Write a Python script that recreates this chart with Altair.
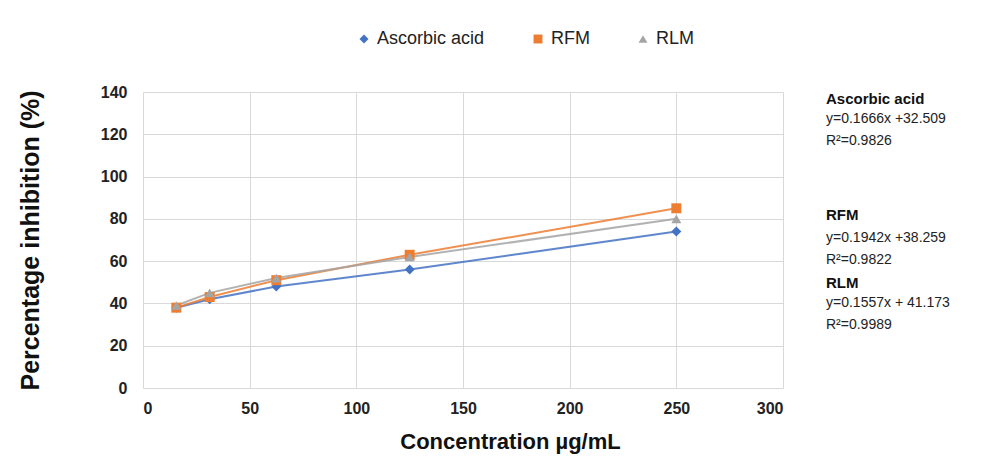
import altair as alt
import pandas as pd

conc = [15.625, 31.25, 62.5, 125, 250]
series_names = ["Ascorbic acid", "RFM", "RLM"]
ascorbic = [38, 42, 48, 56, 74]
rfm = [38, 43, 51, 63, 85]
rlm = [39, 45, 52, 62, 80]
colors = ["#4472C4", "#ED7D31", "#A5A5A5"]
shapes = ["diamond", "square", "triangle-up"]

x_ticks = [0, 50, 100, 150, 200, 250, 300]
y_ticks = [0, 20, 40, 60, 80, 100, 120, 140]

ann_ascorbic = ["y=0.1666x +32.509", "R²=0.9826"]
ann_rfm = ["y=0.1942x +38.259", "R²=0.9822"]
ann_rlm = ["y=0.1557x + 41.173", "R²=0.9989"]

rows = []
for name, vals in zip(series_names, [ascorbic, rfm, rlm]):
    for c, v in zip(conc, vals):
        rows.append({"conc": c, "value": v, "series": name})
df = pd.DataFrame(rows)

FONT = "Liberation Sans"

x_enc = alt.X("conc:Q", scale=alt.Scale(domain=[0, 300], nice=False),
              axis=alt.Axis(values=x_ticks, title="Concentration µg/mL",
                            grid=True, ticks=False, domain=False,
                            labelFontSize=16, labelFontWeight="bold", labelColor="#222",
                            labelPadding=12, labelFont=FONT,
                            titleFont=FONT, titleFontSize=22, titleFontWeight="bold",
                            titleColor="#111", titleX=367, titleY=53,
                            titleAlign="center", titleBaseline="middle"))
y_enc = alt.Y("value:Q", scale=alt.Scale(domain=[0, 140], nice=False),
              axis=alt.Axis(values=y_ticks, title="Percentage inhibition (%)",
                            grid=True, ticks=False, domain=False,
                            labelFontSize=16, labelFontWeight="bold", labelColor="#222",
                            labelPadding=16, labelFont=FONT,
                            titleFont=FONT, titleFontSize=25, titleFontWeight="bold",
                            titleColor="#111", titleX=-113, titleY=148, titleAngle=270,
                            titleAlign="center", titleBaseline="middle"))

color_scale = alt.Scale(domain=series_names, range=colors)
shape_scale = alt.Scale(domain=series_names, range=shapes)

base = alt.Chart(df).encode(x=x_enc, y=y_enc)

lines = base.mark_line(strokeWidth=2, opacity=0.85).encode(
    color=alt.Color("series:N", scale=color_scale, legend=None),
    detail="series:N",
)

legend = alt.Legend(title=None, orient="none", direction="horizontal",
                    legendX=212, legendY=-62, labelFontSize=18, labelFont=FONT,
                    labelColor="#222", columnPadding=44, symbolSize=80)
points = base.mark_point(filled=True, size=100, opacity=1).encode(
    color=alt.Color("series:N", scale=color_scale, legend=legend),
    shape=alt.Shape("series:N", scale=shape_scale, legend=legend),
)

one = pd.DataFrame({"a": [0]})

def block(title, lines_, y0, gap):
    t = alt.Chart(one).mark_text(align="left", baseline="top", fontSize=15,
                                 fontWeight="bold", font=FONT, color="#111").encode(
        x=alt.value(683), y=alt.value(y0), text=alt.value(title))
    b = alt.Chart(one).mark_text(align="left", baseline="top", fontSize=14,
                                 font=FONT, color="#222", lineHeight=22).encode(
        x=alt.value(683), y=alt.value(y0 + gap), text=alt.value(lines_))
    return t + b

ann = (block("Ascorbic acid", ann_ascorbic, 0, 20)
       + block("RFM", ann_rfm, 116, 23)
       + block("RLM", ann_rlm, 184, 20))

chart = alt.layer(lines, points, ann).resolve_legend(
    color="independent", shape="independent"
).properties(
    width=640, height=296,
    autosize=alt.AutoSizeParams(type="none"),
    padding={"left": 135, "top": 84, "right": 216, "bottom": 70},
).configure_view(stroke=None).configure_axis(gridColor="#d9d9d9", gridWidth=1)

chart.save("out.html", embed_options={"renderer": "svg", "actions": False})
